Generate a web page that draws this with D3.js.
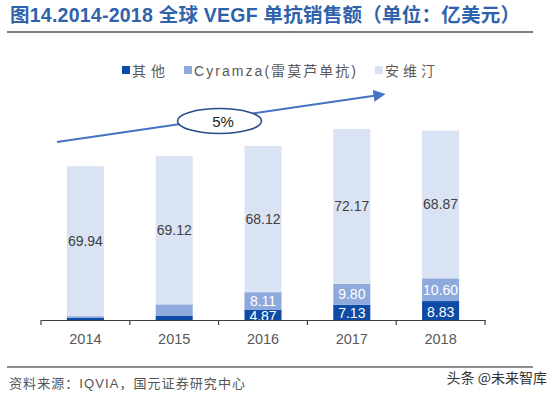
<!DOCTYPE html>
<html><head><meta charset="utf-8">
<script src="https://cdn.jsdelivr.net/npm/d3@7"></script>
<style>body{margin:0;background:#fff}svg{display:block}</style>
</head><body>
<script>
const years = ["2014","2015","2016","2017","2018"];
const other = [1.1, 1.9, 4.87, 7.13, 8.83];
const cyramza = [0.7, 5.4, 8.11, 9.80, 10.60];
const avastin = [69.94, 69.12, 68.12, 72.17, 68.87];
const showOther = [false, false, true, true, true];
const showCyr = [false, false, true, true, true];
const seriesNames = ["其他", "Cyramza(雷莫芦单抗)", "安维汀"];
const colors = ["#0E4BA6", "#8EAADC", "#DAE3F3"];
const growthLabel = "5%";

const W = 554, H = 396;
const svg = d3.select("body").append("svg").attr("width", W).attr("height", H);
const num = "'Liberation Sans', Arial, sans-serif";
const cjk = "'Noto Sans CJK SC', sans-serif";
const mixed = "'Liberation Sans', 'Noto Sans CJK SC', sans-serif";

// Title
svg.append("text").attr("x", 10).attr("y", 22)
  .attr("font-family", mixed)
  .attr("font-weight", "bold").attr("font-size", 19.5).attr("fill", "#2F62AB")
  .attr("textLength", 510).attr("lengthAdjust", "spacing")
  .text("图14.2014-2018 全球 VEGF 单抗销售额（单位：亿美元）");
svg.append("line").attr("x1", 7).attr("x2", 533).attr("y1", 32).attr("y2", 32)
  .attr("stroke", "#555").attr("stroke-width", 1.5);

const x = d3.scaleBand().domain(years).range([41, 485]).paddingInner(0.583).paddingOuter(0.2915);
const y = d3.scaleLinear().domain([0, 100]).range([320, 105.5]);

const data = years.map((yr, i) => ({year: yr, other: other[i], cyr: cyramza[i], ava: avastin[i], i}));
const stack = d3.stack().keys(["other", "cyr", "ava"])(data);

const g = svg.append("g");
stack.forEach((layer, li) => {
  g.selectAll(null).data(layer).enter().append("rect")
    .attr("x", d => x(d.data.year))
    .attr("width", x.bandwidth())
    .attr("y", d => y(d[1]))
    .attr("height", d => y(d[0]) - y(d[1]))
    .attr("fill", colors[li]);
});

// labels
stack.forEach((layer, li) => {
  g.selectAll(null).data(layer.filter(d => li === 2 || (li === 0 ? showOther[d.data.i] : showCyr[d.data.i])))
    .enter().append("text")
    .attr("x", d => x(d.data.year) + x.bandwidth() / 2)
    .attr("y", d => (y(d[0]) + y(d[1])) / 2 + (li === 0 ? 1 : 0))
    .attr("dy", "0.36em")
    .attr("text-anchor", "middle")
    .attr("font-family", num).attr("font-size", 14)
    .attr("fill", li === 2 ? "#404040" : "#fff")
    .text(d => (d[1] - d[0]).toFixed(2));
});

// Axis
const axis = d3.axisBottom(x).tickSize(0).tickPadding(14);
const ax = svg.append("g").attr("transform", "translate(0,320)").call(axis);
ax.select(".domain").attr("stroke", "#404040").attr("stroke-width", 1.2);
ax.selectAll("text").attr("font-family", num).attr("font-size", 14.5).attr("fill", "#595959");
const bounds = [x.range()[0]].concat(years.map(yr => x(yr) + x.bandwidth() / 2 + x.step() / 2));
ax.selectAll(null).data(bounds).enter().append("line")
  .attr("x1", d => d).attr("x2", d => d).attr("y1", 0).attr("y2", 5)
  .attr("stroke", "#404040").attr("stroke-width", 1.2);

// Legend
const legendItems = [
  {x: 122, name: seriesNames[0], c: colors[0], w: 33},
  {x: 184, name: seriesNames[1], c: colors[1], w: 162},
  {x: 375, name: seriesNames[2], c: colors[2], w: 50}
];
const lg = svg.append("g");
legendItems.forEach(it => {
  lg.append("rect").attr("x", it.x).attr("y", 66).attr("width", 8).attr("height", 8).attr("fill", it.c);
  lg.append("text").attr("x", it.x + 10).attr("y", 75.5)
    .attr("font-family", mixed).attr("font-size", 14)
    .attr("textLength", it.w).attr("lengthAdjust", "spacing")
    .attr("fill", "#595959").text(it.name);
});

// Arrow
const defs = svg.append("defs");
defs.append("marker").attr("id", "ah").attr("viewBox", "0 0 10 10").attr("refX", 2).attr("refY", 5)
  .attr("markerWidth", 6).attr("markerHeight", 6).attr("orient", "auto")
  .append("path").attr("d", "M0,0 L10,5 L0,10 z").attr("fill", "#4472C4");
svg.append("line").attr("x1", 57).attr("y1", 142).attr("x2", 376).attr("y2", 95.5)
  .attr("stroke", "#4472C4").attr("stroke-width", 2).attr("marker-end", "url(#ah)");
svg.append("ellipse").attr("cx", 219.5).attr("cy", 121).attr("rx", 42).attr("ry", 12.5)
  .attr("fill", "#fff").attr("stroke", "#2B4A8A").attr("stroke-width", 1.6);
svg.append("text").attr("x", 223).attr("y", 122).attr("dy", "0.36em").attr("text-anchor", "middle")
  .attr("font-family", num).attr("font-size", 15).attr("fill", "#222").text(growthLabel);

// Footer
svg.append("line").attr("x1", 7).attr("x2", 533).attr("y1", 367).attr("y2", 367)
  .attr("stroke", "#666").attr("stroke-width", 1.5);
svg.append("text").attr("x", 9).attr("y", 388)
  .attr("font-family", mixed).attr("font-size", 13)
  .attr("textLength", 236).attr("lengthAdjust", "spacing")
  .attr("fill", "#555").text("资料来源：IQVIA，国元证券研究中心");
svg.append("text").attr("x", 547).attr("y", 383).attr("text-anchor", "end")
  .attr("font-family", cjk).attr("font-size", 14).attr("fill", "#333").text("头条 @未来智库");
</script>
</body></html>
